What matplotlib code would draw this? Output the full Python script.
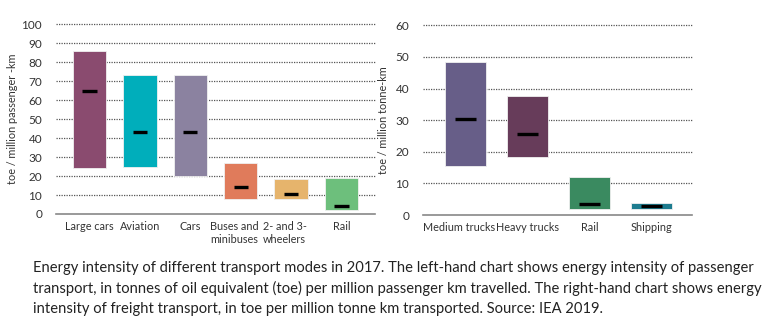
import numpy as np
import matplotlib.pyplot as plt

# passenger transport (toe / million passenger-km)
pass_modes = ["Large cars", "Aviation", "Cars", "Buses and\nminibuses", "2- and 3-\nwheelers", "Rail"]
pass_low = [24, 25, 20, 8, 8, 2]
pass_high = [86, 73, 73, 27, 18.5, 19]
pass_mid = [64.5, 43, 43, 14, 10.5, 4]
pass_colors = ["#8A4B6F", "#00AEBB", "#8B82A0", "#E07B5B", "#E6B46C", "#6DBF7C"]

# freight transport (toe / million tonne-km)
frt_modes = ["Medium trucks", "Heavy trucks", "Rail", "Shipping"]
frt_low = [15.5, 18.5, 2, 2]
frt_high = [48.5, 37.5, 12, 3.8]
frt_mid = [30.5, 25.5, 3.5, 2.7]
frt_colors = ["#675E88", "#673C5A", "#3A8A60", "#1D7C8F"]

caption = ("Energy intensity of different transport modes in 2017. The left-hand chart shows energy intensity of passenger\n"
           "transport, in tonnes of oil equivalent (toe) per million passenger km travelled. The right-hand chart shows energy\n"
           "intensity of freight transport, in toe per million tonne km transported. Source: IEA 2019.")

plt.rcParams['font.family'] = ['Lato', 'DejaVu Sans']

fig = plt.figure(figsize=(7.79, 3.35), dpi=100)
ax1 = fig.add_axes([0.0719, 0.3612, 0.4095, 0.567])
ax2 = fig.add_axes([0.543, 0.3582, 0.3453, 0.566])


def draw(ax, modes, low, high, mid, colors, ymax, step, ylabel, mid_half, xl, xr, label_shift):
    x = np.arange(len(modes))
    low = np.array(low)
    high = np.array(high)
    ax.bar(x, high - low, bottom=low, width=0.66, color=colors,
           edgecolor="#f0f0f0", linewidth=0.6, zorder=3)
    ax.hlines(mid, x - mid_half, x + mid_half, color="black", linewidth=2.4, zorder=4)
    ax.set_xlim(xl, xr)
    ax.set_ylim(0, ymax)
    ax.set_yticks(np.arange(0, ymax + 1, step))
    for v in np.arange(step, ymax + 1, step):
        ax.axhline(v, color="#555555", linestyle=(0, (1, 1)), linewidth=0.9, zorder=1, clip_on=False)
    ax.axhline(0, color="#888888", linewidth=1.2, zorder=2, clip_on=False)
    for s in ax.spines.values():
        s.set_visible(False)
    # some labels sit a little left of their bar in the original
    ax.set_xticks(x - np.array(label_shift))
    ax.set_xticklabels(modes, fontsize=7.8, color="#333333", linespacing=1.25)
    ax.tick_params(axis="both", length=0, colors="#333333")
    ax.tick_params(axis="y", pad=10, labelsize=8.5)
    ax.tick_params(axis="x", pad=5)
    ax.set_ylabel(ylabel, fontsize=7.8, color="#333333")
    ax.patch.set_visible(False)


draw(ax1, pass_modes, pass_low, pass_high, pass_mid, pass_colors, 100, 10,
     "toe / million passenger -km", 0.14, -0.665, 5.665, [0, 0, 0, 0.13, 0.13, 0])
ax1.yaxis.set_label_coords(-0.12, 0.5)

draw(ax2, frt_modes, frt_low, frt_high, frt_mid, frt_colors, 60, 10,
     "toe / million tonne-km", 0.17, -0.685, 3.645, [0.11, 0, 0, 0])
ax2.yaxis.set_label_coords(-0.125, 0.5)

cap = fig.text(0.043, 0.222, caption, fontsize=9.5, color="#222222", va="top", ha="left",
               linespacing=1.55)
# shrink the caption so its widest line spans about 731 px, like the reference
fig.canvas.draw()
w = cap.get_window_extent().width
cap.set_fontsize(9.5 * 731 / w)

fig.savefig("out.png", dpi=100, facecolor="white")
